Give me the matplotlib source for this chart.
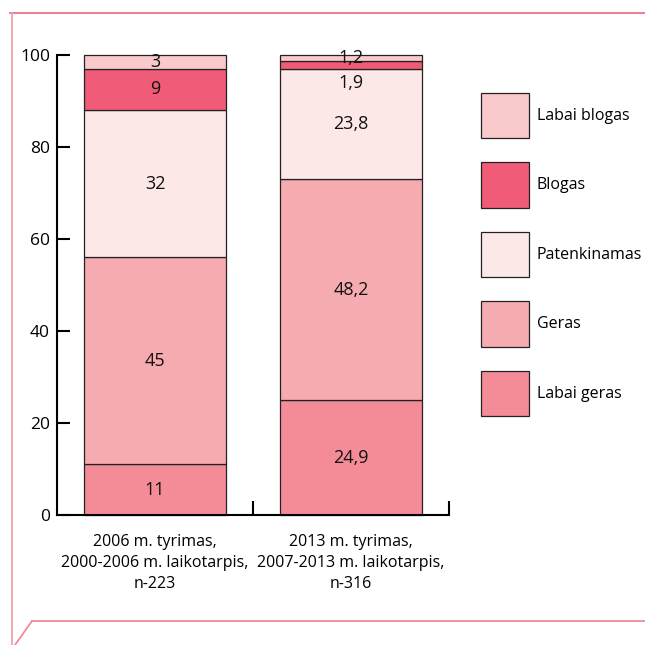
import matplotlib
matplotlib.use('Agg')
import matplotlib.pyplot as plt
from matplotlib.lines import Line2D

plt.rcParams['font.family'] = ['Open Sans', 'DejaVu Sans']

# survey results, % of respondents per rating
groups = ['2006 m. tyrimas,\n2000-2006 m. laikotarpis,\nn-223',
          '2013 m. tyrimas,\n2007-2013 m. laikotarpis,\nn-316']
ratings = ['Labai geras', 'Geras', 'Patenkinamas', 'Blogas', 'Labai blogas']
values = {
    'Labai geras': [11, 24.9],
    'Geras': [45, 48.2],
    'Patenkinamas': [32, 23.8],
    'Blogas': [9, 1.9],
    'Labai blogas': [3, 1.2],
}
labels = {
    'Labai geras': ['11', '24,9'],
    'Geras': ['45', '48,2'],
    'Patenkinamas': ['32', '23,8'],
    'Blogas': ['9', '1,9'],
    'Labai blogas': ['3', '1,2'],
}
colors = ['#f48c98', '#f6abb0', '#fde8e8', '#f05b78', '#f9c9cb']

W, H = 645, 645
fig = plt.figure(figsize=(W / 100, H / 100), dpi=100)
ax = fig.add_axes([57 / W, 1 - 515 / H, (449 - 57) / W, (515 - 55) / H])

x = [0, 1]
bottom = [0, 0]
handles = []
for name, col in zip(ratings, colors):
    v = values[name]
    bars = ax.bar(x, v, width=0.72, bottom=bottom, color=col,
                  edgecolor='#222222', linewidth=0.9, label=name, clip_on=False)
    handles.append(bars)
    for i in range(2):
        yc = bottom[i] + v[i] / 2
        if v[i] < 2.5 and name == 'Blogas':
            # thin band: number goes just below it
            yc = bottom[i] + v[i] - 4.8
        ax.text(x[i], yc, labels[name][i], ha='center', va='center',
                fontsize=13, color='#111111')
    bottom = [bottom[i] + v[i] for i in range(2)]

ax.set_xlim(-0.5, 1.5)
ax.set_ylim(0, 100)
ax.set_yticks([0, 20, 40, 60, 80, 100])
ax.tick_params(axis='y', direction='in', length=9, width=1.5, labelsize=12.5, pad=5)
ax.set_xticks(x)
ax.set_xticklabels(groups, fontsize=11.5, linespacing=1.4)
ax.tick_params(axis='x', length=0, pad=14)
ax.set_xticks([0.5, 1.5], minor=True)
ax.tick_params(axis='x', which='minor', direction='in', length=10, width=1.5)
for s in ['top', 'right']:
    ax.spines[s].set_visible(False)
for s in ['left', 'bottom']:
    ax.spines[s].set_linewidth(1.5)

leg = ax.legend(handles[::-1], ratings[::-1], loc='upper left',
                bbox_to_anchor=(481 / W, 1 - 93 / H), bbox_transform=fig.transFigure,
                frameon=False, fontsize=11.5, handlelength=3.0, handleheight=4.0,
                labelspacing=1.5, handletextpad=0.5, borderpad=0, borderaxespad=0)

# pink page frame
fig.add_artist(Line2D([10 / W, 1], [1 - 13 / H, 1 - 13 / H], color='#ee7088', lw=1.3))
fig.add_artist(Line2D([12 / W, 12 / W], [1 - 13 / H, 0], color='#f4a0b0', lw=1.3))
fig.add_artist(Line2D([32 / W, 1], [1 - 621 / H, 1 - 621 / H], color='#f08a9c', lw=1.3))
fig.add_artist(Line2D([32 / W, 15 / W], [1 - 621 / H, 1 - 645 / H], color='#f08a9c', lw=1.3))

fig.savefig('out.png', dpi=100)
